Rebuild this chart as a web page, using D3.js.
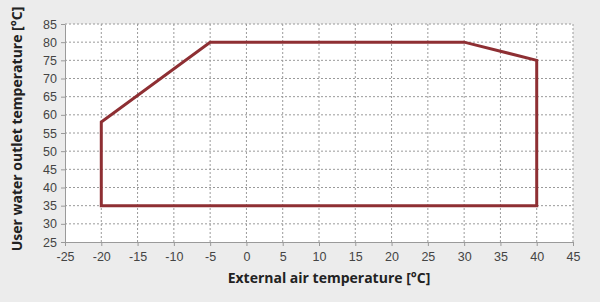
<!DOCTYPE html>
<html>
<head>
<meta charset="utf-8">
<script src="https://cdn.jsdelivr.net/npm/d3@7"></script>
<style>
  body { margin: 0; background: #ececec; }
  svg { display: block; font-family: "Open Sans", sans-serif; }
  .tick text { fill: #444; font-size: 12.5px; }
  .axis path, .axis line { stroke: #9a9a9a; }
  .grid line { stroke: #9a9a9a; stroke-dasharray: 2,2; }
</style>
</head>
<body>
<div id="chart"></div>
<script>
// operating envelope points [external air °C, water outlet °C]
const airTemp = [-20, -20, -5, 30, 40, 40]
const waterTemp = [35, 58, 80, 80, 75, 35]
const xTicks = [-25, -20, -15, -10, -5, 0, 5, 10, 15, 20, 25, 30, 35, 40, 45]
const yTicks = [25, 30, 35, 40, 45, 50, 55, 60, 65, 70, 75, 80, 85]

const W = 600, H = 302
const margin = { top: 24, right: 27, bottom: 60, left: 65 }
const width = W - margin.left - margin.right
const height = H - margin.top - margin.bottom

const svg = d3.select("#chart").append("svg")
  .attr("width", W).attr("height", H)

const g = svg.append("g")
  .attr("transform", "translate(" + margin.left + "," + margin.top + ")")

const x = d3.scaleLinear().domain([-25, 45]).range([0, width])
const y = d3.scaleLinear().domain([25, 85]).range([height, 0])

g.append("rect").attr("width", width).attr("height", height).attr("fill", "#fff")

// grid
g.append("g").attr("class", "grid")
  .selectAll("line").data(xTicks.slice(1)).enter().append("line")
  .attr("x1", d => x(d)).attr("x2", d => x(d))
  .attr("y1", 0).attr("y2", height)
g.append("g").attr("class", "grid")
  .selectAll("line").data(yTicks.slice(1)).enter().append("line")
  .attr("x1", 0).attr("x2", width)
  .attr("y1", d => y(d)).attr("y2", d => y(d))

// axes (plain hyphen for negatives, like the original)
const fmt = d => String(d)
g.append("g").attr("class", "axis")
  .attr("transform", "translate(0," + height + ")")
  .call(d3.axisBottom(x).tickValues(xTicks).tickFormat(fmt).tickSize(4).tickPadding(6).tickSizeOuter(0))
g.append("g").attr("class", "axis")
  .call(d3.axisLeft(y).tickValues(yTicks).tickFormat(fmt).tickSize(4).tickPadding(4).tickSizeOuter(0))

// envelope
const pts = airTemp.map((a, i) => [a, waterTemp[i]])
const line = d3.line().x(d => x(d[0])).y(d => y(d[1]))
g.append("path")
  .attr("d", line(pts) + "Z")
  .attr("fill", "none")
  .attr("stroke", "#8e2f33")
  .attr("stroke-width", 3)
  .attr("stroke-linejoin", "miter")

// labels
svg.append("text")
  .attr("x", margin.left + width / 2 + 10).attr("y", 283)
  .attr("text-anchor", "middle")
  .attr("font-size", 14).attr("font-weight", "bold").attr("fill", "#222")
  .text("External air temperature [°C]")
svg.append("text")
  .attr("transform", "translate(22," + (margin.top + height / 2 - 4) + ") rotate(-90)")
  .attr("text-anchor", "middle")
  .attr("font-size", 14).attr("font-weight", "bold").attr("fill", "#222")
  .text("User water outlet temperature [°C]")
</script>
</body>
</html>
